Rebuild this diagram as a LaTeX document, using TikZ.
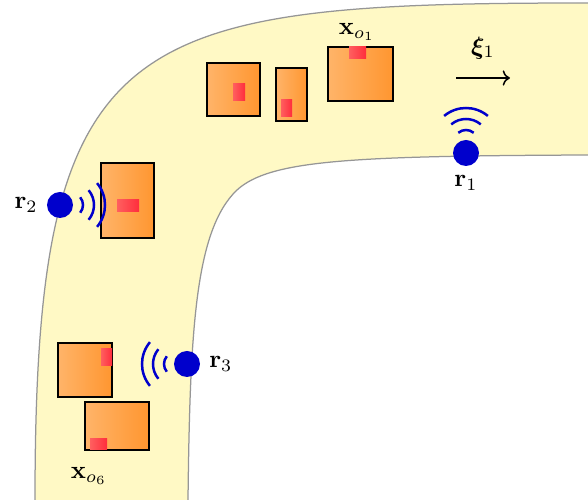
\documentclass[tikz,border=0pt]{standalone}
\usepackage{amsmath,amssymb,bm}
\usetikzlibrary{arrows.meta,positioning,calc}
\definecolor{roadyellow}{RGB}{255,249,197}
\definecolor{roadgray}{RGB}{150,150,150}
\definecolor{sensorblue}{RGB}{0,0,204}
\definecolor{boxlight}{RGB}{255,180,105}
\definecolor{boxdark}{RGB}{255,150,48}
\definecolor{marklight}{RGB}{255,95,95}
\definecolor{markdark}{RGB}{255,45,60}
\newcommand{\sensorwaves}[2]{%
  \foreach \rad in {12,23,34}
    \draw[wave] ($(#1.center)+(#2:11)$) ++(#2-40:\rad) arc[start angle=#2-40,end angle=#2+40,radius=\rad];}

\begin{document}
\begin{tikzpicture}[
    x=0.4pt,y=0.4pt,
    roadedge/.style={draw=roadgray,line width=0.5pt},
    obj/.style={draw=black,line width=0.7pt,left color=boxlight,right color=boxdark},
    redpatch/.style={left color=marklight,right color=markdark},
    sensor/.style={circle,fill=sensorblue,minimum size=10.4pt,inner sep=0pt},
    wave/.style={draw=sensorblue,line width=1pt},
    >=To
]
\useasboundingbox (0,0) rectangle (588,500);
\fill[roadyellow] (35,0) .. controls (35,470) and (120,497) .. (588,497) -- (588,345)
  .. controls (350,344) and (270,340) .. (237,310) .. controls (195,270) and (190,170) .. (188,0) -- cycle;
\draw[roadedge] (35,0) .. controls (35,470) and (120,497) .. (588,497);
\draw[roadedge] (588,345) .. controls (350,344) and (270,340) .. (237,310)
  .. controls (195,270) and (190,170) .. (188,0);

\shade[obj] (207,384) rectangle (260,437);
\shade[redpatch] (233,399) rectangle (245,416);
\shade[obj] (276,379) rectangle (307,432);
\shade[redpatch] (281,383) rectangle (292,400);
\shade[obj] (328,399) rectangle (393,453);
\shade[redpatch] (349,441) rectangle (366,453);
\shade[obj] (101,262) rectangle (154,337);
\shade[redpatch] (117,288) rectangle (139,300);
\shade[obj] (58,103) rectangle (112,157);
\shade[redpatch] (101,134) rectangle (112,151);
\shade[obj] (85,50) rectangle (149,98);
\shade[redpatch] (90,50) rectangle (107,61);

\node (xo1) at (357,468) {$\mathbf{x}_{o_1}$};
\node (xo6) at (89,24) {$\mathbf{x}_{o_6}$};

\node[sensor] (r1) at (466,347) {};
\node[sensor] (r2) at (60,295) {};
\node[sensor] (r3) at (187,136) {};
\node[below=0pt of r1] (r1lbl) {$\mathbf{r}_1$};
\node[left=0pt of r2] (r2lbl) {$\mathbf{r}_2$};
\node[right=0pt of r3] (r3lbl) {$\mathbf{r}_3$};
\sensorwaves{r1}{90}
\sensorwaves{r2}{0}
\sensorwaves{r3}{180}

\coordinate (xistart) at (456,422);
\coordinate (xiend) at (510,422);
\node (xi) at (483,452) {$\bm{\xi}_1$};
\draw[->,semithick] (xistart) -- (xiend);
\end{tikzpicture}
\end{document}
